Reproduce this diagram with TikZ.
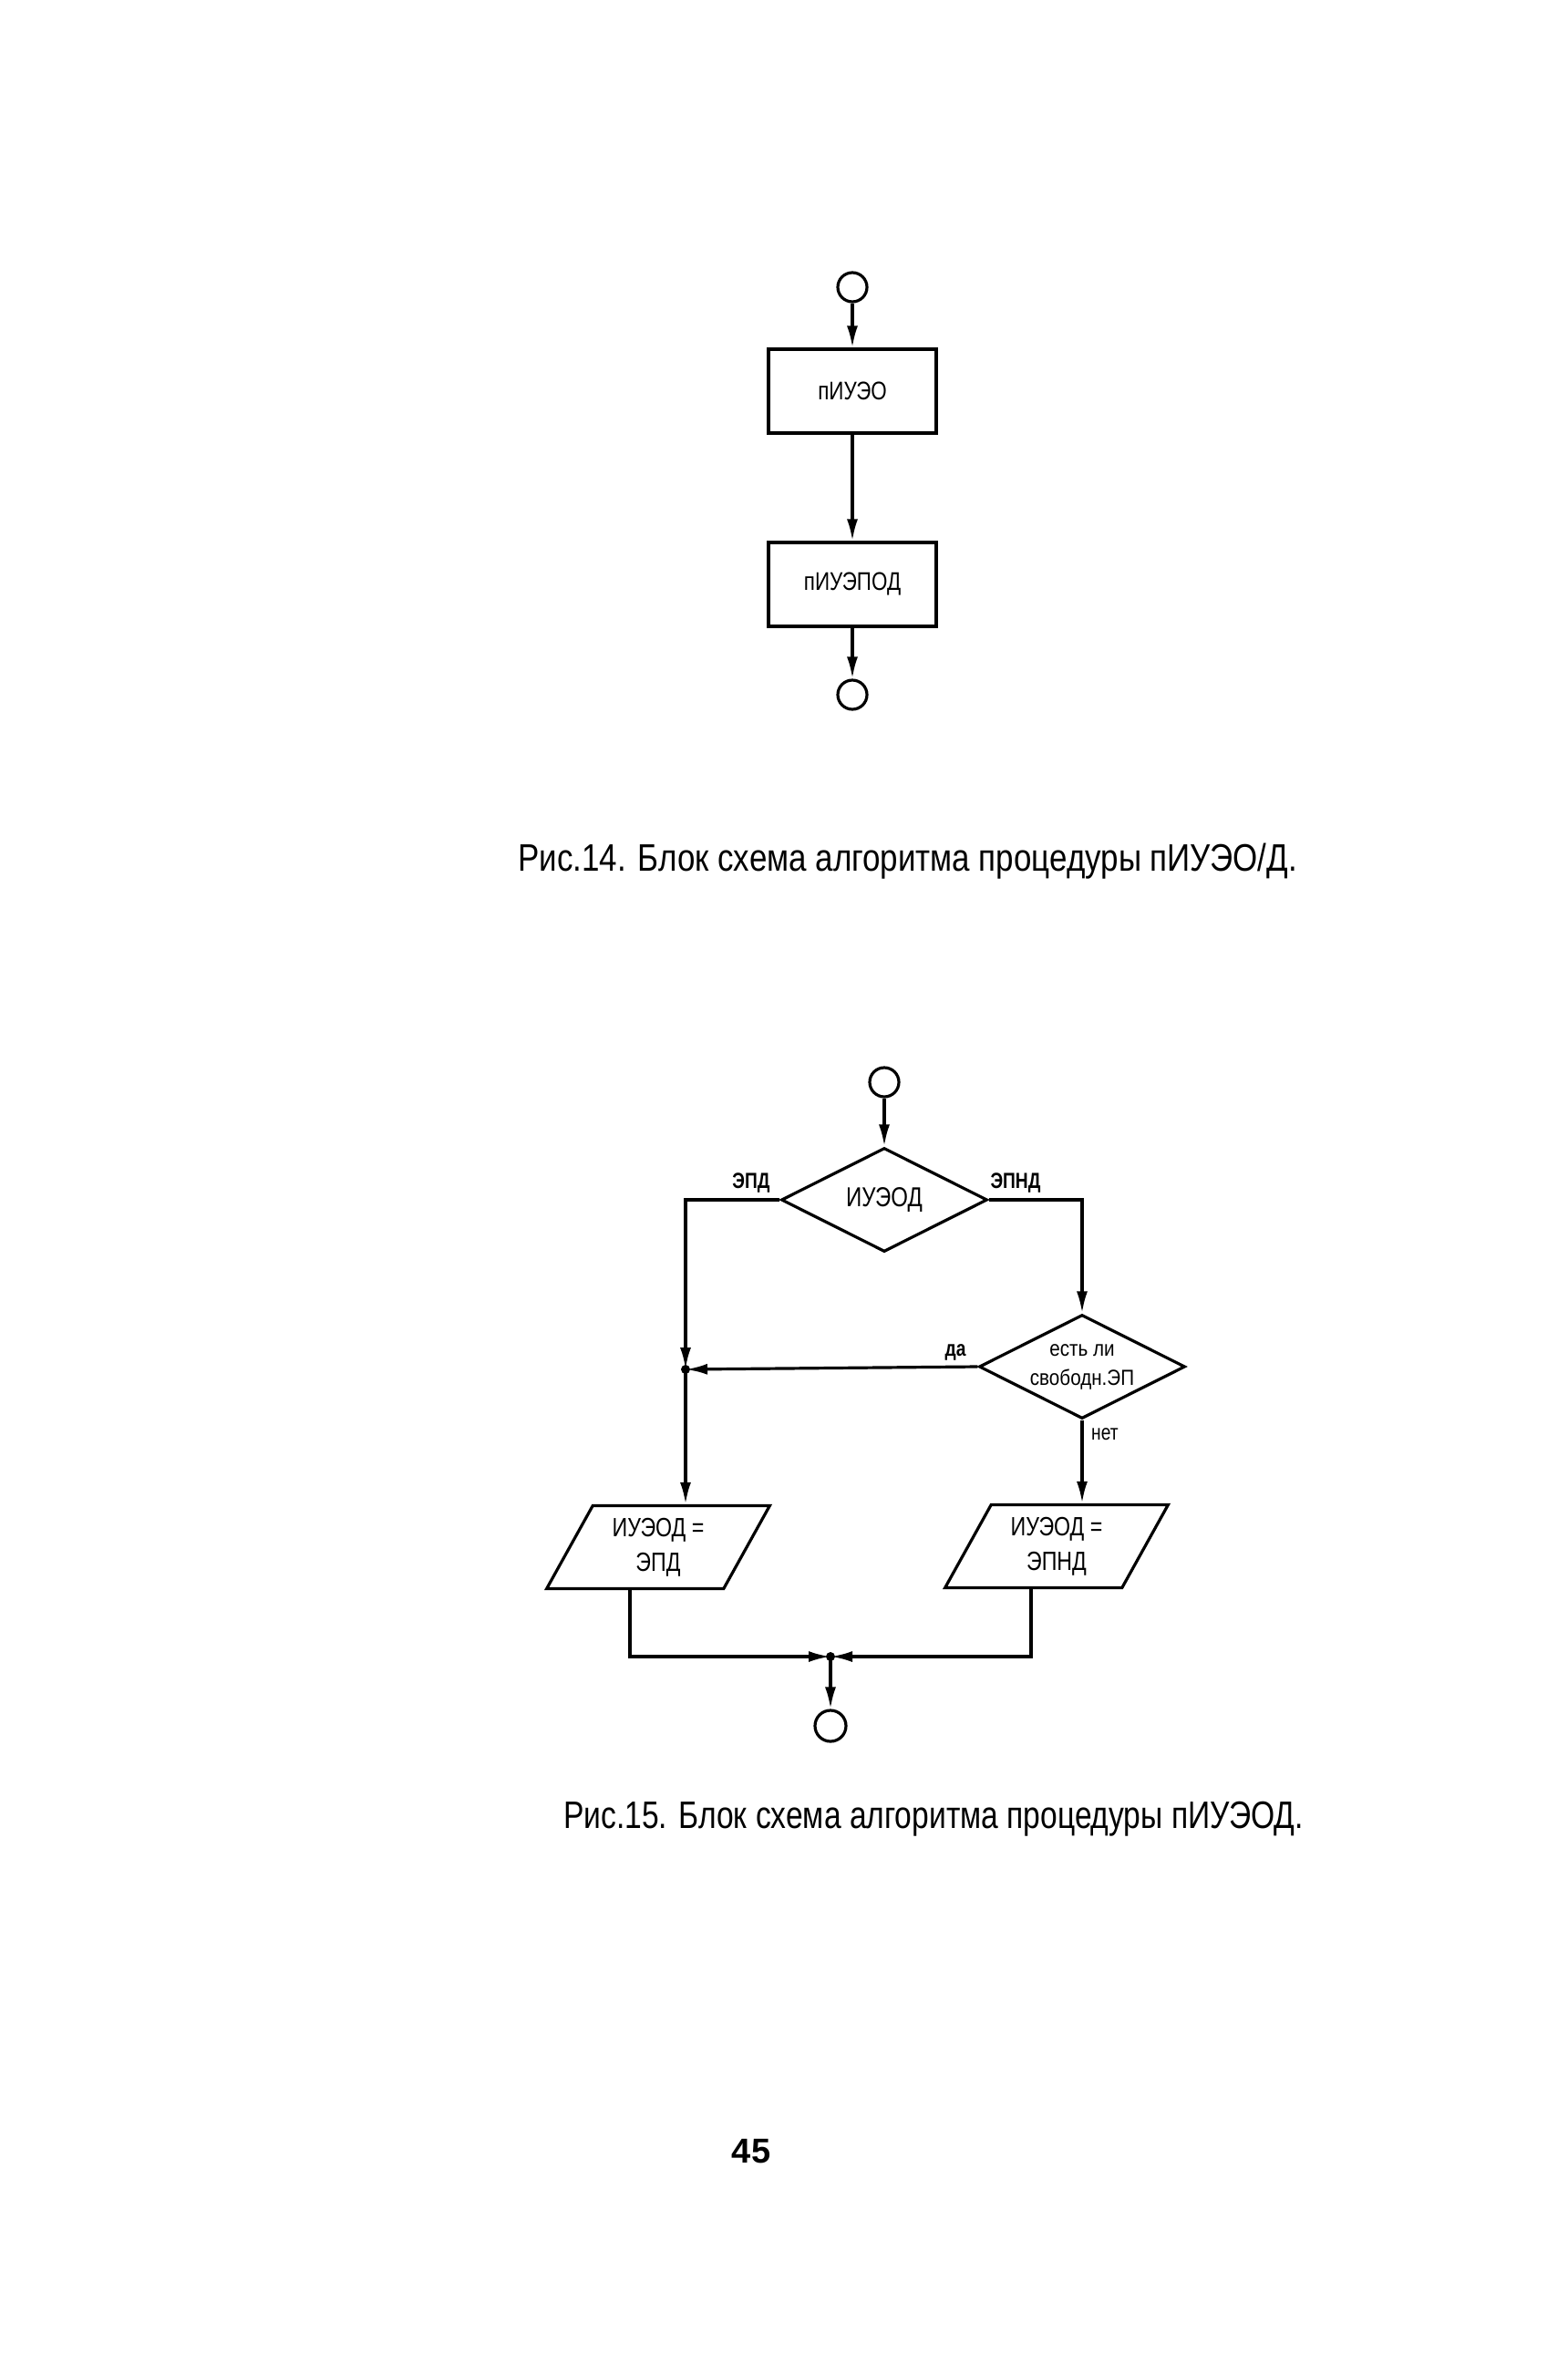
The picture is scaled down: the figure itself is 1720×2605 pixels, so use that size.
\documentclass[tikz,border=0pt]{standalone}
\usepackage{fontspec}
\setmainfont{Liberation Sans}[FakeStretch=0.8]
\newfontfamily\pnumfont{Liberation Sans}
\newfontfamily\widefont{Liberation Sans}[FakeStretch=0.86]
\usetikzlibrary{shapes.geometric,arrows.meta,calc}
\tikzset{
  ln/.style={line width=3.2pt},
  arr/.style={ln,-{Latex[length=24pt,width=12pt]}},
  term/.style={circle,draw,ln,minimum size=32pt,inner sep=0pt},
  proc/.style={rectangle,draw,ln,minimum width=184pt,minimum height=92pt,inner sep=0pt,font=\fontsize{28}{32}\selectfont},
  decis/.style={diamond,draw,ln,aspect=2,inner sep=0pt,minimum width=226pt,minimum height=114pt},
  iobox/.style={trapezium,draw,ln,trapezium stretches=true,trapezium left angle=61,trapezium right angle=119,minimum width=245pt,minimum height=91pt,inner sep=0pt,align=center,font=\fontsize{29}{38}\selectfont},
  lab/.style={font=\bfseries\fontsize{24}{26}\selectfont,inner sep=0pt},
  captxt/.style={font=\fontsize{42}{46}\selectfont,inner sep=0pt,anchor=base west},
  dot/.style={circle,fill,minimum size=10pt,inner sep=0pt}
}
\begin{document}
\begin{tikzpicture}[x=1pt,y=-1pt]
\path[use as bounding box,fill=white] (0,0) rectangle (1720,2605);
% Fig 14
\node[term] (s1) at (935,315) {};
\node[proc] (b1) at (935,429) {пИУЭО};
\node[proc] (b2) at (935,641) {пИУЭПОД};
\node[term] (e1) at (935,762) {};
\draw[arr] (s1) -- (b1);
\draw[arr] (b1) -- (b2);
\draw[arr] (b2) -- (e1);
\node[captxt] (c14) at (568,955) {\scalebox{1.04}[1]{Рис.14. Блок схема алгоритма процедуры пИУЭО/Д.}};
% Fig 15
\node[term] (s2) at (970,1187) {};
\node[decis,font=\fontsize{30}{34}\selectfont] (d1) at (970,1316) {ИУЭОД};
\node[decis,align=center,font=\widefont\fontsize{24}{32}\selectfont] (d2) at (1187,1499) {есть ли\\свободн.ЭП};
\node[iobox] (p1) at (722,1697) {ИУЭОД =\\ЭПД};
\node[iobox] (p2) at (1159,1696) {ИУЭОД =\\ЭПНД};
\node[dot] (j1) at (752,1502) {};
\node[dot] (j2) at (911,1817) {};
\node[term,minimum size=34pt] (e2) at (911,1893) {};
\draw[arr] (s2) -- (d1);
\draw[arr] (d1.west) -| (j1.center);
\draw[arr] (d1.east) -| (d2.north);
\draw[arr] (d2.west) -- (j1.center);
\draw[arr] (j1.center) -- (j1.center |- p1.north);
\draw[arr] (d2.south) -- (d2.south |- p2.north);
\draw[arr] ([xshift=-31pt]p1.south) |- (j2.center);
\draw[arr] ([xshift=-28pt]p2.south) |- (j2.center);
\draw[arr] (j2.center) -- (e2);
\node[lab] (l1) at (824,1297) {ЭПД};
\node[lab] (l2) at (1114,1297) {ЭПНД};
\node[lab] (l3) at (1048,1483) {да};
\node[lab,font=\fontsize{24}{26}\selectfont,anchor=west] (l4) at (1197,1573) {нет};
\node[captxt] (c15) at (618,2005) {Рис.15. Блок схема алгоритма процедуры пИУЭОД.};
\node[font=\pnumfont\bfseries\fontsize{38}{40}\selectfont,anchor=base,inner sep=0pt] (pg) at (824,2372) {45};
\end{tikzpicture}
\end{document}
